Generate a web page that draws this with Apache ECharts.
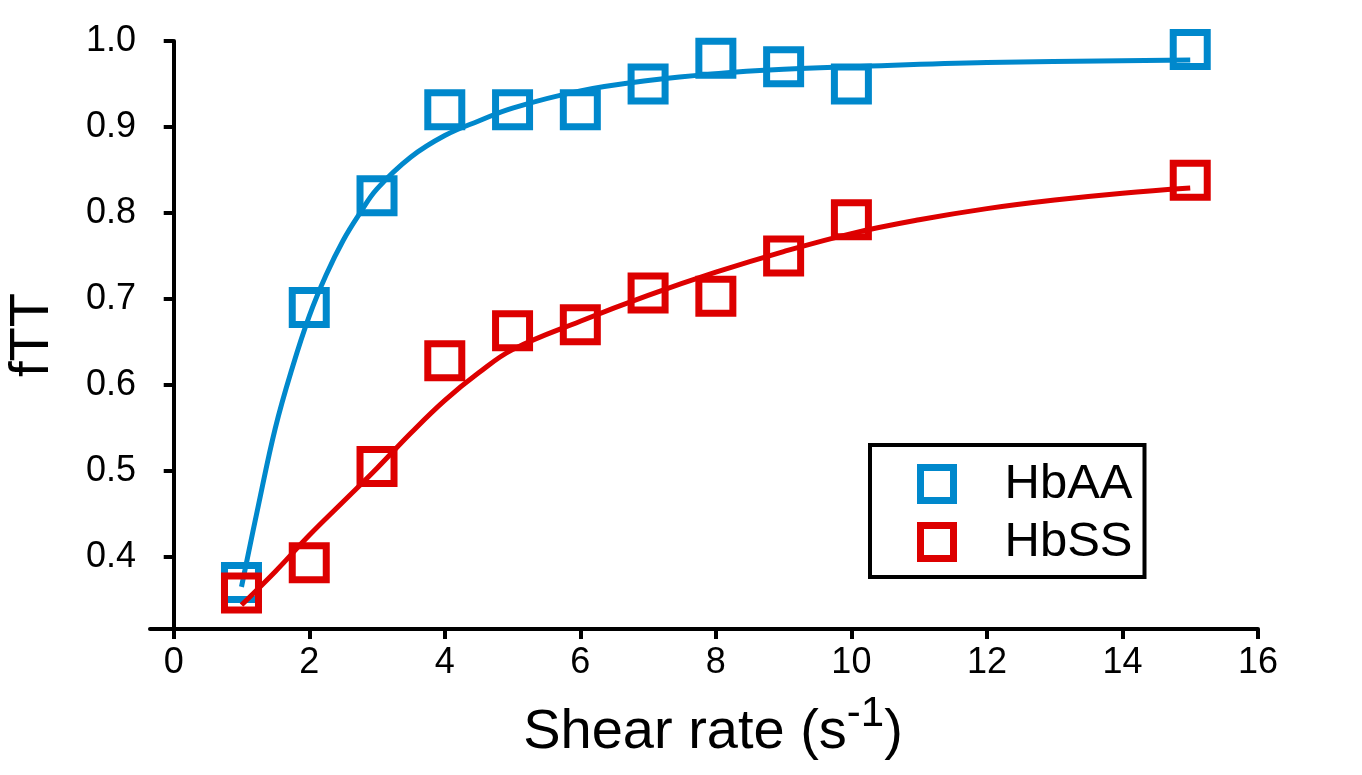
<!DOCTYPE html>
<html>
<head>
<meta charset="utf-8">
<script src="https://cdn.jsdelivr.net/npm/echarts@6/dist/echarts.min.js"></script>
<style>
html,body{margin:0;padding:0;background:#fff;}
#chart{width:1362px;height:775px;}
</style>
</head>
<body>
<div id="chart"></div>
<script>
// ---- data ----
const xTicks = [0, 2, 4, 6, 8, 10, 12, 14, 16];
const yTicks = [0.4, 0.5, 0.6, 0.7, 0.8, 0.9, 1.0];
const shearRates = [1, 2, 3, 4, 5, 6, 7, 8, 9, 10, 15];
const hbAA = [0.37, 0.69, 0.82, 0.92, 0.92, 0.92, 0.95, 0.98, 0.97, 0.95, 0.99];
const hbSS = [0.358, 0.393, 0.505, 0.628, 0.663, 0.67, 0.707, 0.703, 0.75, 0.792, 0.838];
// fitted curves
const fitAAx = [1, 1.25, 1.5, 1.75, 2, 2.25, 2.5, 2.75, 3, 3.5, 4, 4.5, 5, 6, 7, 8, 9, 10, 12, 15];
const fitAAy = [0.365, 0.46, 0.55, 0.62, 0.68, 0.728, 0.768, 0.80, 0.828, 0.865, 0.89, 0.907, 0.922, 0.942, 0.954, 0.962, 0.967, 0.97, 0.975, 0.978];
const fitSSx = [1, 1.5, 2, 2.5, 3, 3.5, 4, 4.5, 5, 6, 7, 8, 9, 10, 11, 12, 13, 14, 15];
const fitSSy = [0.344, 0.383, 0.425, 0.464, 0.503, 0.544, 0.582, 0.614, 0.641, 0.674, 0.704, 0.731, 0.755, 0.776, 0.792, 0.805, 0.815, 0.823, 0.829];

const BLUE = '#0088cc';
const RED = '#dd0000';
const FONT = 'Liberation Sans, Arial, sans-serif';

const zip = (xs, ys) => xs.map((x, i) => [x, ys[i]]);

const chart = echarts.init(document.getElementById('chart'), null, {renderer: 'canvas'});
chart.setOption({
  animation: false,
  backgroundColor: '#fff',
  grid: {left: 150, right: 104, top: 41, bottom: 146, containLabel: false, outerBoundsMode: 'none'},
  xAxis: {
    type: 'value', min: -0.35, max: 16,
    name: '{a|Shear rate (s}{s|-1}{a|)}',
    nameLocation: 'middle', nameGap: 68,
    nameTextStyle: {
      padding: [0, 0, 0, 18],
      rich: {
        a: {fontSize: 56, fontFamily: FONT, color: '#000', lineHeight: 64, verticalAlign: 'bottom'},
        s: {fontSize: 42, fontFamily: FONT, color: '#000', lineHeight: 64, verticalAlign: 'bottom', padding: [0, 0, 26, 0]}
      }
    },
    axisLine: {show: true, lineStyle: {color: '#000', width: 4}},
    axisTick: {show: true, customValues: xTicks, length: 10, inside: false, lineStyle: {color: '#000', width: 4}},
    axisLabel: {customValues: xTicks, fontSize: 36, fontFamily: FONT, color: '#000', margin: 16},
    splitLine: {show: false}
  },
  yAxis: {
    type: 'value', min: 0.316, max: 1.0,
    name: 'fTT', nameLocation: 'middle', nameGap: 89, nameRotate: 90,
    nameTextStyle: {fontSize: 56, fontFamily: FONT, color: '#000'},
    axisLine: {show: true, lineStyle: {color: '#000', width: 4}},
    axisTick: {show: true, customValues: yTicks, length: 10, inside: false, lineStyle: {color: '#000', width: 4}},
    axisLabel: {customValues: yTicks, fontSize: 36, fontFamily: FONT, color: '#000', margin: 14,
      formatter: v => v.toFixed(1)},
    splitLine: {show: false}
  },
  legend: {
    orient: 'vertical', left: 870, top: 445,
    padding: [14, 12, 10, 47],
    itemGap: 8, itemWidth: 33, itemHeight: 33,
    borderColor: '#000', borderWidth: 4, backgroundColor: '#fff',
    textStyle: {fontSize: 49, fontFamily: FONT, color: '#000', lineHeight: 50, padding: [0, 0, 0, 46]},
    data: [
      {name: 'HbAA', icon: 'rect', itemStyle: {color: '#fff', borderColor: BLUE, borderWidth: 7}},
      {name: 'HbSS', icon: 'rect', itemStyle: {color: '#fff', borderColor: RED, borderWidth: 7}}
    ]
  },
  series: [
    {name: 'HbAA', type: 'scatter', symbol: 'rect', symbolSize: 34, data: zip(shearRates, hbAA),
      itemStyle: {color: 'rgba(0,0,0,0)', borderColor: BLUE, borderWidth: 7, opacity: 1}, z: 2},
    {name: 'HbAA fit', type: 'line', smooth: 0.4, showSymbol: false, data: zip(fitAAx, fitAAy),
      lineStyle: {color: BLUE, width: 5}, itemStyle: {color: BLUE}, z: 3},
    {name: 'HbSS', type: 'scatter', symbol: 'rect', symbolSize: 34, data: zip(shearRates, hbSS),
      itemStyle: {color: 'rgba(0,0,0,0)', borderColor: RED, borderWidth: 7, opacity: 1}, z: 4},
    {name: 'HbSS fit', type: 'line', smooth: 0.4, showSymbol: false, data: zip(fitSSx, fitSSy),
      lineStyle: {color: RED, width: 5}, itemStyle: {color: RED}, z: 5}
  ]
});
</script>
</body>
</html>
